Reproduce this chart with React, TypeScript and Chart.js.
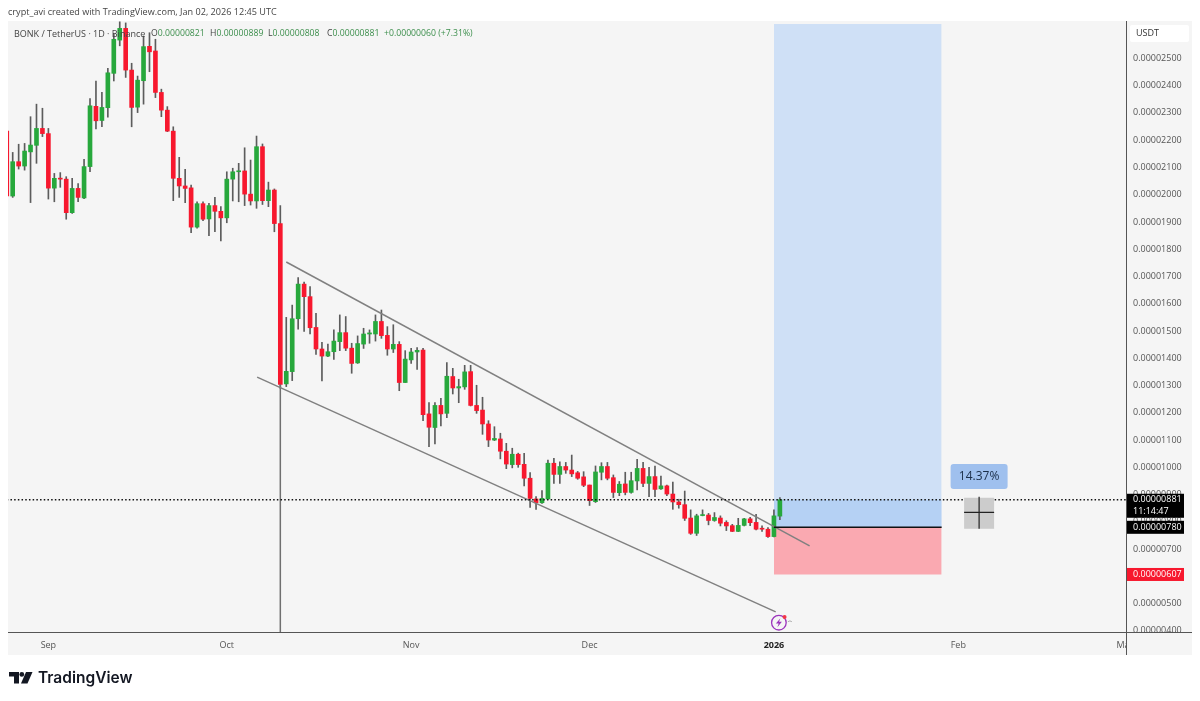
import React, { useEffect, useRef } from "react";
import Chart from "chart.js/auto";

// prices are in 1e-8 USDT, days are counted from 1 Sep 2025
const firstDay = -7;
const opens = [
  2233, 1995, 2121, 2105, 2157, 2181, 2243, 2224, 2024, 2060, 2057, 1934, 2023, 1988, 2103, 2324, 2272, 2319, 2445, 2567,
  2610, 2457, 2321, 2418, 2544, 2527, 2375, 2310, 2233, 2060, 2032, 2025, 1881, 1967, 1911, 1960, 1939, 1915, 2057, 2084,
  2087, 2002, 1977, 2176, 1978, 2017, 1894, 1306, 1351, 1545, 1672, 1626, 1513, 1434, 1408, 1424, 1461, 1494, 1437, 1383,
  1452, 1489, 1489, 1535, 1484, 1434, 1451, 1311, 1394, 1423, 1430, 1196, 1146, 1227, 1198, 1333, 1291, 1295, 1351, 1227,
  1210, 1159, 1100, 1104, 1059, 1010, 1048, 1011, 960, 884, 870, 884, 1015, 974, 1003, 990, 980, 965, 935, 874,
  982, 1003, 962, 907, 939, 908, 950, 996, 941, 966, 921, 932, 902, 873, 863, 814, 758, 823, 825, 805,
  814, 798, 786, 765, 787, 811, 798, 775, 773, 746, 821,
];
const highs = [
  2250, 2155, 2185, 2188, 2286, 2332, 2317, 2243, 2078, 2081, 2066, 2060, 2041, 2130, 2352, 2417, 2375, 2463, 2592, 2634,
  2630, 2482, 2435, 2582, 2594, 2570, 2387, 2323, 2249, 2137, 2093, 2035, 1974, 1974, 1968, 1990, 1956, 2084, 2097, 2115,
  2172, 2127, 2215, 2186, 2046, 2021, 1960, 1550, 1595, 1696, 1679, 1663, 1565, 1458, 1452, 1504, 1559, 1553, 1455, 1482,
  1510, 1504, 1559, 1577, 1516, 1523, 1461, 1428, 1436, 1439, 1436, 1237, 1237, 1253, 1384, 1363, 1323, 1374, 1374, 1301,
  1257, 1171, 1149, 1125, 1088, 1070, 1052, 1051, 981, 893, 915, 1027, 1033, 1020, 1018, 1045, 985, 984, 935, 1005,
  1017, 1018, 972, 948, 982, 982, 1029, 1018, 1000, 1005, 968, 935, 946, 883, 913, 844, 828, 844, 831, 834,
  822, 804, 791, 813, 813, 817, 828, 785, 779, 844, 889,
];
const lows = [
  1990, 1990, 2094, 2090, 1971, 2115, 2213, 1984, 1974, 2027, 1910, 1931, 1974, 1985, 2084, 2241, 2249, 2284, 2417, 2546,
  2430, 2249, 2301, 2332, 2451, 2356, 2286, 2231, 1978, 1990, 1971, 1861, 1877, 1905, 1850, 1864, 1830, 1897, 1977, 1974,
  1960, 1962, 1950, 1964, 1956, 1864, 1290, 1296, 1318, 1507, 1498, 1489, 1414, 1317, 1406, 1396, 1428, 1428, 1345, 1381,
  1436, 1455, 1463, 1473, 1411, 1421, 1281, 1311, 1381, 1359, 1171, 1076, 1086, 1152, 1182, 1269, 1237, 1286, 1225, 1198,
  1121, 1076, 1098, 1031, 995, 998, 1000, 932, 853, 846, 868, 883, 941, 941, 978, 966, 956, 929, 860, 871,
  954, 954, 889, 896, 899, 905, 917, 929, 892, 892, 919, 896, 846, 850, 805, 754, 750, 822, 789, 802,
  785, 768, 764, 764, 785, 786, 770, 765, 743, 745, 808,
];
const closes = [
  1995, 2121, 2105, 2160, 2182, 2243, 2224, 2024, 2060, 2057, 1934, 2023, 1990, 2103, 2326, 2271, 2320, 2447, 2570, 2610,
  2457, 2320, 2420, 2543, 2524, 2375, 2310, 2233, 2060, 2032, 2023, 1881, 1967, 1910, 1960, 1939, 1915, 2057, 2084, 2086,
  2002, 1977, 2176, 1978, 2017, 1894, 1304, 1352, 1545, 1672, 1626, 1512, 1434, 1408, 1424, 1463, 1494, 1437, 1381, 1454,
  1489, 1493, 1535, 1483, 1434, 1451, 1311, 1397, 1423, 1429, 1193, 1147, 1227, 1196, 1334, 1291, 1296, 1350, 1227, 1208,
  1159, 1100, 1106, 1059, 1012, 1048, 1010, 960, 886, 870, 886, 1015, 974, 1003, 990, 976, 960, 934, 878, 983,
  1003, 960, 908, 938, 908, 951, 996, 941, 966, 919, 932, 902, 873, 863, 813, 758, 822, 826, 805, 816,
  795, 785, 765, 787, 811, 797, 773, 773, 746, 822, 881,
];

const monthDays = [0, 30, 61, 91, 122, 153, 181];
const monthLabels = ["Sep", "Oct", "Nov", "Dec", "2026", "Feb", "Mar"];
const yearDay = 122;
const priceTicks = [400, 500, 600, 700, 800, 900, 1000, 1100, 1200, 1300, 1400, 1500, 1600, 1700, 1800, 1900, 2000, 2100, 2200, 2300, 2400, 2500];

const upperChannel = [
  { x: 40, y: 1753 },
  { x: 128, y: 712 },
];
const lowerChannel = [
  { x: 35.1, y: 1331 },
  { x: 122.3, y: 470 },
];
const crashDrop = [
  { x: 39, y: 1304 },
  { x: 39, y: 396 },
];

const lastPrice = 881;
const entryPrice = 780;
const stopPrice = 607;
const targetPrice = 2626;
const boxStart = 122;
const boxEnd = 150.2;
const calloutDay = 156.5;

const legendValues = [
  { left: 151, head: "O", text: "0.00000821" },
  { left: 210, head: "H", text: "0.00000889" },
  { left: 268, head: "L", text: "0.00000808" },
  { left: 327, head: "C", text: "0.00000881" },
  { left: 384, head: "", text: "+0.00000060 (+7.31%)" },
];

const GREEN = "#27a83c";
const RED = "#f7182e";
const WICK = "#5c5c5c";
const PANEL = "#f5f5f5";
const AXIS_LINE = "#555555";
const FONT = "'Open Sans', sans-serif";

const fmt = (v: number) => (v / 1e8).toFixed(8);
const days = opens.map((_, i) => firstDay + i);
const flat = (price: number, from: number, to: number) => [
  { x: from, y: price },
  { x: to, y: price },
];

const areaLine = (data: any[], color: string, value: number) => ({
  type: "line" as const,
  data,
  borderWidth: 0,
  pointRadius: 0,
  backgroundColor: color,
  fill: { value },
  order: 9,
});

const strokeLine = (data: any[], color: string, width: number, order: number, dash: number[] = []) => ({
  type: "line" as const,
  data,
  borderColor: color,
  borderWidth: width,
  borderDash: dash,
  pointRadius: 0,
  fill: false,
  order,
});

// panel background, price tags and the other bits TradingView paints on top
const panelPlugin = {
  id: "panel",
  beforeDraw(chart: any) {
    const { ctx } = chart;
    ctx.save();
    ctx.fillStyle = PANEL;
    ctx.fillRect(8, 21, 1184, 634);
    ctx.restore();
  },
  afterDraw(chart: any) {
    const { ctx, scales, chartArea } = chart;
    const px = (d: number) => scales.x.getPixelForValue(d);
    const py = (v: number) => scales.y.getPixelForValue(v);
    ctx.save();

    // axis corner hides the clipped tick labels
    ctx.fillStyle = PANEL;
    ctx.fillRect(chartArea.right, chartArea.bottom, 66, 23);
    ctx.strokeStyle = AXIS_LINE;
    ctx.lineWidth = 1;
    ctx.beginPath();
    ctx.moveTo(8, chartArea.bottom + 0.5);
    ctx.lineTo(1192, chartArea.bottom + 0.5);
    ctx.moveTo(chartArea.right + 0.5, 21);
    ctx.lineTo(chartArea.right + 0.5, 655);
    ctx.stroke();

    // USDT badge
    ctx.fillStyle = "#ffffff";
    ctx.beginPath();
    ctx.roundRect(1130, 25, 59, 17, 2);
    ctx.fill();
    ctx.fillStyle = "#333333";
    ctx.font = `9px ${FONT}`;
    ctx.textBaseline = "middle";
    ctx.fillText("USDT", 1136, 33.5);

    // price tags
    const tagX = chartArea.right + 1;
    const tagW = 57;
    const yLast = py(lastPrice);
    ctx.fillStyle = "#000000";
    ctx.fillRect(tagX, yLast - 6, tagW, 24);
    const yEntry = py(entryPrice);
    ctx.fillRect(tagX, yEntry - 6.5, tagW, 13);
    const yStop = py(stopPrice);
    ctx.fillStyle = RED;
    ctx.fillRect(tagX, yStop - 6.5, tagW, 13);
    ctx.fillStyle = "#ffffff";
    ctx.fillText(fmt(lastPrice), 1133, yLast);
    ctx.fillText("11:14:47", 1133, yLast + 12);
    ctx.fillText(fmt(entryPrice), 1133, yEntry);
    ctx.fillText(fmt(stopPrice), 1133, yStop);

    // percentage bubble and the drag handle below it
    const cx = px(calloutDay);
    ctx.fillStyle = "#9fc0ee";
    ctx.beginPath();
    ctx.roundRect(cx - 28.5, 464, 57, 25, 3);
    ctx.fill();
    ctx.fillStyle = "#1c2f4a";
    ctx.font = `12px ${FONT}`;
    ctx.textAlign = "center";
    ctx.fillText("14.37%", cx, 477);
    ctx.fillStyle = "#cccccc";
    ctx.fillRect(cx - 15, yLast - 2, 30, 31);
    ctx.strokeStyle = "#222222";
    ctx.lineWidth = 1.2;
    ctx.beginPath();
    ctx.moveTo(cx - 15, yEntry - 15);
    ctx.lineTo(cx + 15, yEntry - 15);
    ctx.moveTo(cx, yLast - 3);
    ctx.lineTo(cx, yLast + 29);
    ctx.stroke();

    // lightning marker
    const mx = px(123) - 1;
    const my = 622.7;
    ctx.strokeStyle = "#9c34bd";
    ctx.lineWidth = 1.3;
    ctx.beginPath();
    ctx.arc(mx, my, 7.3, 0, Math.PI * 2);
    ctx.stroke();
    ctx.fillStyle = "#9c34bd";
    ctx.beginPath();
    ctx.moveTo(mx + 1.5, my - 4.5);
    ctx.lineTo(mx - 3, my + 0.8);
    ctx.lineTo(mx - 0.2, my + 0.8);
    ctx.lineTo(mx - 1.5, my + 4.5);
    ctx.lineTo(mx + 3, my - 1);
    ctx.lineTo(mx + 0.2, my - 1);
    ctx.closePath();
    ctx.fill();
    ctx.fillStyle = "#f23645";
    ctx.beginPath();
    ctx.arc(mx + 5.7, my - 5.7, 2, 0, Math.PI * 2);
    ctx.fill();
    ctx.strokeStyle = "#9a9a9a";
    ctx.lineWidth = 0.8;
    ctx.beginPath();
    ctx.moveTo(mx + 9, my - 1);
    ctx.lineTo(mx + 11, my - 1.8);
    ctx.lineTo(mx + 13, my - 1);
    ctx.stroke();
    ctx.restore();
  },
};

export default function App() {
  const canvasRef = useRef<HTMLCanvasElement>(null);

  useEffect(() => {
    if (!canvasRef.current) return;

    const barColors = closes.map((c, i) => (c >= opens[i] ? GREEN : RED));

    const chart = new Chart(canvasRef.current, {
      type: "bar",
      data: {
        datasets: [
          areaLine(flat(targetPrice, boxStart, boxEnd), "#cfe0f6", entryPrice),
          { ...areaLine(flat(lastPrice, boxStart, boxEnd), "#b5d1f4", entryPrice), order: 8 },
          areaLine(flat(stopPrice, boxStart, boxEnd), "#faa9b1", entryPrice),
          {
            data: days.map((d, i) => ({ x: d, y: [lows[i], highs[i]] })),
            backgroundColor: WICK,
            barThickness: 1,
            grouped: false,
            order: 6,
          },
          {
            data: days.map((d, i) => ({ x: d, y: [opens[i], closes[i]] })),
            backgroundColor: barColors,
            barThickness: 4,
            minBarLength: 1,
            grouped: false,
            order: 5,
          },
          strokeLine(upperChannel, "#808080", 1.5, 4),
          strokeLine(lowerChannel, "#808080", 1.5, 4),
          strokeLine(crashDrop, "#707070", 1.5, 4),
          strokeLine(flat(entryPrice, boxStart, boxEnd), "#111111", 1.5, 3),
          strokeLine(flat(lastPrice, -7, 181.2), "#111111", 1.4, 2, [1.5, 2.2]),
        ] as any,
      },
      options: {
        responsive: false,
        animation: false,
        events: [],
        layout: { padding: { left: 8, top: 21, right: 0, bottom: 0 } },
        plugins: { legend: { display: false }, tooltip: { enabled: false } },
        scales: {
          x: {
            type: "linear",
            offset: false,
            min: -6.79,
            max: 181.2,
            grid: { display: false, drawTicks: false },
            border: { display: false },
            afterBuildTicks: (axis: any) => {
              axis.ticks = monthDays.map((value) => ({ value }));
            },
            afterFit: (axis: any) => {
              axis.height = 69;
            },
            ticks: {
              autoSkip: false,
              maxRotation: 0,
              padding: 8,
              color: (c: any) => (c.tick?.value === yearDay ? "#222222" : "#555555"),
              font: (c: any) => ({
                family: FONT,
                size: 9,
                weight: c.tick?.value === yearDay ? "bold" : "normal",
              }),
              callback: (value: any) => monthLabels[monthDays.indexOf(value)],
            },
          },
          y: {
            type: "linear",
            position: "right",
            min: 396,
            max: 2637,
            grid: { display: false, drawTicks: false },
            border: { display: false },
            afterBuildTicks: (axis: any) => {
              axis.ticks = priceTicks.map((value) => ({ value }));
            },
            afterFit: (axis: any) => {
              axis.width = 74;
            },
            ticks: {
              autoSkip: false,
              padding: 7,
              color: "#555555",
              font: { family: FONT, size: 9 },
              callback: (value: any) => fmt(value),
            },
          },
        },
      },
      plugins: [panelPlugin],
    } as any);

    return () => chart.destroy();
  }, []);

  return (
    <div style={{ position: "fixed", left: 0, top: 0, width: 1200, height: 701, background: "#ffffff", fontFamily: FONT, overflow: "hidden" }}>
      <canvas ref={canvasRef} width={1200} height={701} style={{ position: "absolute", left: 0, top: 0 }} />
      <div style={{ position: "absolute", left: 8, top: 5, fontSize: 9.1, color: "#444444", whiteSpace: "nowrap" }}>
        crypt_avi created with TradingView.com, Jan 02, 2026 12:45 UTC
      </div>
      <div style={{ position: "absolute", left: 14, top: 27, fontSize: 9, color: "#444444", whiteSpace: "nowrap" }}>
        BONK / TetherUS · 1D · Binance
      </div>
      {legendValues.map((item) => (
        <div key={item.left} style={{ position: "absolute", left: item.left, top: 27, fontSize: 8.7, color: "#444444", whiteSpace: "nowrap" }}>
          {item.head}
          <span style={{ color: "#3d8f4d" }}>{item.text}</span>
        </div>
      ))}
      <svg width="24" height="12" viewBox="0 0 24 12" style={{ position: "absolute", left: 9, top: 672 }}>
        <path d="M0 0h10v11.5H5V4.5H0z" fill="#131722" />
        <circle cx="12.8" cy="2.4" r="2.4" fill="#131722" />
        <path d="M17 0h6.5l-5 11.5H12z" fill="#131722" />
      </svg>
      <div style={{ position: "absolute", left: 38, top: 668, fontFamily: "Inter, sans-serif", fontSize: 15.5, fontWeight: 600, color: "#131722", whiteSpace: "nowrap" }}>
        TradingView
      </div>
    </div>
  );
}
